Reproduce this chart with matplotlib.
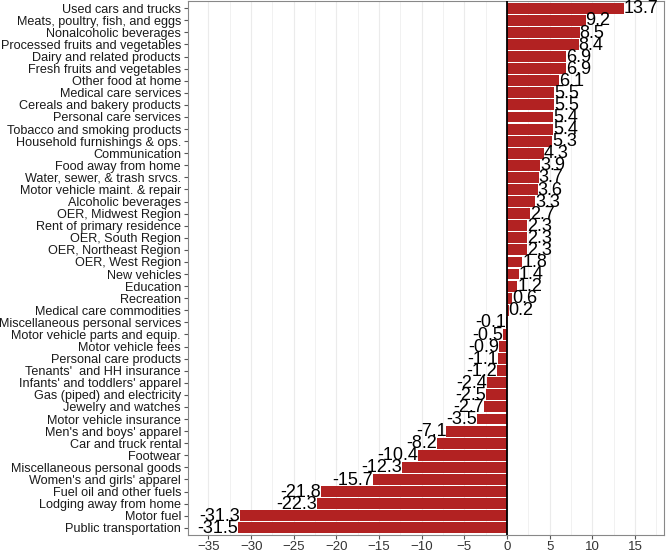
import matplotlib
matplotlib.use("Agg")
import matplotlib.pyplot as plt
from matplotlib.ticker import MultipleLocator
import numpy as np

plt.rcParams['font.family'] = ['Liberation Sans', 'DejaVu Sans']

categories = [
    "Used cars and trucks", "Meats, poultry, fish, and eggs", "Nonalcoholic beverages",
    "Processed fruits and vegetables", "Dairy and related products", "Fresh fruits and vegetables",
    "Other food at home", "Medical care services", "Cereals and bakery products",
    "Personal care services", "Tobacco and smoking products", "Household furnishings & ops.",
    "Communication", "Food away from home", "Water, sewer, & trash srvcs.",
    "Motor vehicle maint. & repair", "Alcoholic beverages", "OER, Midwest Region",
    "Rent of primary residence", "OER, South Region", "OER, Northeast Region",
    "OER, West Region", "New vehicles", "Education", "Recreation",
    "Medical care commodities", "Miscellaneous personal services",
    "Motor vehicle parts and equip.", "Motor vehicle fees", "Personal care products",
    "Tenants'  and HH insurance", "Infants' and toddlers' apparel",
    "Gas (piped) and electricity", "Jewelry and watches", "Motor vehicle insurance",
    "Men's and boys' apparel", "Car and truck rental", "Footwear",
    "Miscellaneous personal goods", "Women's and girls' apparel",
    "Fuel oil and other fuels", "Lodging away from home", "Motor fuel",
    "Public transportation",
]
values = [
    13.7, 9.2, 8.5, 8.4, 6.9, 6.9, 6.1, 5.5, 5.5, 5.4, 5.4, 5.3, 4.3, 3.9, 3.7,
    3.6, 3.3, 2.7, 2.3, 2.3, 2.3, 1.8, 1.4, 1.2, 0.6, 0.2, -0.1, -0.5, -0.9,
    -1.1, -1.2, -2.4, -2.5, -2.7, -3.5, -7.1, -8.2, -10.4, -12.3, -15.7,
    -21.8, -22.3, -31.3, -31.5,
]

fig = plt.figure(figsize=(6.66, 5.5), dpi=100)
ax = fig.add_axes([188 / 666, 15 / 550, 476 / 666, 534 / 550])

y = np.arange(len(categories))
ax.barh(y, values, height=0.9, color='#B22222', zorder=2)
ax.axvline(0, color='black', lw=1.3, zorder=3)

# value labels at bar ends
for yi, v in zip(y, values):
    ax.text(v, yi + 0.05, f"{v:.1f}", ha='left' if v > 0 else 'right', va='center',
            fontsize=13, color='black', zorder=4)

ax.set_yticks(y)
ax.set_yticklabels(categories, fontsize=9.1, color='#1a1a1a')
ax.set_ylim(len(categories) - 0.4, -0.6)
ax.set_xlim(-37.4, 18.4)
ax.xaxis.set_major_locator(MultipleLocator(5))
ax.xaxis.set_minor_locator(MultipleLocator(2.5))
ax.tick_params(axis='x', labelsize=9.5, labelcolor='#333333', color='#555555', length=3, pad=1)
ax.tick_params(axis='x', which='minor', length=0)
ax.tick_params(axis='y', color='#555555', length=3, pad=2)
ax.grid(axis='x', which='major', color='#EBEBEB', lw=0.8, zorder=0)
ax.grid(axis='x', which='minor', color='#EBEBEB', lw=0.5, zorder=0)
for s in ax.spines.values():
    s.set_color('#888888')
    s.set_linewidth(0.8)

fig.savefig('out.png', dpi=100)
